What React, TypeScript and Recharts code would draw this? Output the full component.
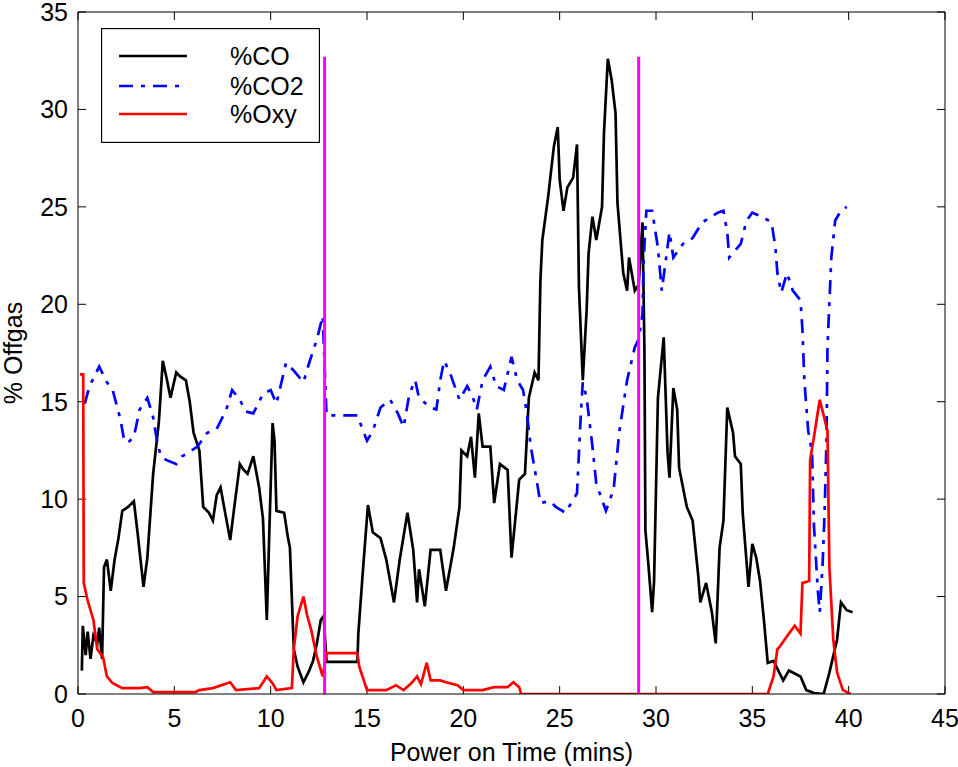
import { LineChart, Line, XAxis, YAxis, ReferenceLine } from "recharts";

// %CO (black)
const coTime = [
  0.2, 0.25, 0.4, 0.5, 0.65, 0.8, 1.0, 1.1, 1.25, 1.35, 1.5, 1.7, 1.9, 2.1, 2.3, 2.6, 2.9, 3.1, 3.4, 3.6,
  3.9, 4.2, 4.4, 4.6, 4.8, 5.1, 5.3, 5.6, 5.8, 6.0, 6.3, 6.5, 6.8, 7.0, 7.2, 7.4, 7.6, 7.9, 8.1, 8.4,
  8.6, 8.8, 9.1, 9.4, 9.6, 9.8, 9.95, 10.1, 10.2, 10.3, 10.7, 10.9, 11.0, 11.2, 11.4, 11.7, 12.0, 12.2, 12.4, 12.6,
  12.75, 12.9, 14.5, 14.55, 14.8, 15.05, 15.3, 15.7, 16.0, 16.4, 16.7, 17.1, 17.4, 17.6, 17.7, 18.0, 18.3, 18.8, 19.1, 19.5,
  19.8, 19.9, 20.2, 20.4, 20.6, 20.8, 21.0, 21.4, 21.6, 21.9, 22.3, 22.5, 22.9, 23.2, 23.4, 23.7, 23.9, 24.0, 24.1, 24.4,
  24.7, 24.9, 25.0, 25.2, 25.4, 25.7, 25.9, 26.0, 26.1, 26.2, 26.4, 26.5, 26.7, 26.9, 27.2, 27.3, 27.5, 27.7, 27.9, 28.0,
  28.3, 28.5, 28.6, 28.9, 29.1, 29.3, 29.4, 29.45, 29.6, 29.8, 29.9, 30.1, 30.4, 30.6, 30.7, 30.9, 31.1, 31.2, 31.5, 31.6,
  31.9, 32.2, 32.3, 32.6, 32.9, 33.1, 33.2, 33.3, 33.5, 33.7, 34.0, 34.1, 34.4, 34.5, 34.8, 35.0, 35.2, 35.4, 35.6, 35.8,
  36.1, 36.6, 36.9, 37.5, 37.8, 38.2, 38.7, 39.0, 39.4, 39.6, 39.9, 40.2,
];
const coValues = [
  1.2, 3.5, 2.0, 3.2, 1.8, 3.0, 2.6, 3.4, 1.8, 6.5, 6.9, 5.3, 6.9, 8.0, 9.4, 9.6, 9.9, 8.2, 5.5, 7.0,
  11.3, 14.0, 17.1, 16.2, 15.2, 16.5, 16.3, 16.1, 15.0, 13.4, 12.5, 9.6, 9.3, 8.9, 10.2, 10.6, 9.5, 7.9, 9.5, 11.8,
  11.5, 11.3, 12.2, 10.6, 9.0, 3.8, 9.0, 13.9, 13.0, 9.4, 9.3, 8.0, 7.5, 2.3, 1.4, 0.6, 1.2, 1.7, 2.6, 3.8,
  4.0, 1.65, 1.65, 3.1, 6.5, 9.7, 8.3, 8.0, 6.9, 4.7, 6.9, 9.3, 7.4, 4.7, 6.4, 4.5, 7.4, 7.4, 5.3, 7.5,
  9.6, 12.5, 12.2, 13.2, 11.1, 14.4, 12.7, 12.7, 9.8, 11.8, 11.5, 7.0, 11.0, 11.3, 15.2, 16.5, 16.1, 21.2, 23.3, 25.5,
  28.1, 29.1, 26.4, 24.8, 26.0, 26.5, 28.2, 20.9, 18.5, 16.1, 19.7, 22.6, 24.5, 23.3, 25.0, 28.8, 32.6, 31.5, 29.8, 25.2,
  21.6, 20.7, 22.4, 20.7, 21.0, 24.2, 17.6, 8.4, 6.7, 4.2, 5.8, 15.2, 18.3, 12.4, 11.1, 15.7, 14.6, 11.6, 10.1, 9.6,
  8.9, 6.0, 4.7, 5.7, 4.2, 2.6, 5.0, 7.5, 8.9, 14.7, 13.4, 12.2, 11.8, 9.3, 5.5, 7.7, 7.0, 5.8, 3.8, 1.6,
  1.7, 0.7, 1.2, 0.9, 0.2, 0.05, 0, 1.1, 2.8, 4.7, 4.3, 4.2,
];

// %CO2 (blue, dash-dot)
const co2Time = [
  0.35, 0.6, 0.9, 1.1, 1.5, 1.8, 2.2, 2.4, 2.6, 2.9, 3.2, 3.6, 3.9, 4.1, 4.3, 4.6, 5.1, 5.4, 5.6, 6.2,
  6.7, 7.2, 7.7, 8.0, 8.4, 8.7, 9.1, 9.6, 10.0, 10.3, 10.8, 11.2, 11.7, 12.0, 12.4, 12.7, 12.9, 14.5, 14.8, 15.0,
  15.3, 15.7, 16.2, 16.6, 16.9, 17.2, 17.5, 17.7, 18.3, 18.6, 18.8, 19.0, 19.3, 19.8, 20.2, 20.5, 20.7, 21.0, 21.4, 21.7,
  22.1, 22.5, 22.8, 23.1, 23.3, 23.5, 23.8, 24.0, 24.5, 24.8, 25.3, 25.9, 26.1, 26.2, 26.4, 26.7, 26.9, 27.4, 27.8, 28.1,
  28.5, 28.9, 29.1, 29.3, 29.35, 29.5, 29.8, 30.1, 30.3, 30.7, 30.9, 31.4, 31.9, 32.4, 33.2, 33.5, 33.7, 33.8, 34.4, 34.7,
  35.0, 35.5, 36.0, 36.2, 36.3, 36.5, 36.8, 37.1, 37.5, 37.6, 37.7, 37.9, 38.1, 38.2, 38.4, 38.5, 38.65, 38.75, 38.85, 38.9,
  39.1, 39.3, 39.6, 39.9,
];
const co2Values = [
  14.9, 15.8, 16.4, 16.8, 16.0, 15.6, 14.1, 13.0, 12.9, 13.2, 14.6, 15.2, 14.2, 13.0, 12.2, 12.0, 11.8, 12.2, 12.3, 12.7,
  13.4, 13.6, 14.6, 15.6, 15.1, 14.5, 14.4, 15.4, 15.6, 14.9, 17.0, 16.6, 16.0, 17.0, 18.2, 19.4, 14.3, 14.3, 13.5, 13.0,
  13.5, 14.7, 15.1, 14.4, 13.7, 15.4, 16.1, 15.2, 14.7, 14.6, 16.1, 17.1, 16.5, 15.1, 15.8, 15.2, 14.6, 16.1, 16.8, 15.8,
  15.6, 17.3, 16.1, 15.6, 14.4, 12.7, 11.0, 9.8, 9.9, 9.6, 9.3, 10.3, 14.4, 16.0, 15.2, 12.7, 10.8, 9.4, 10.5, 13.5,
  16.1, 17.8, 18.2, 19.5, 22.1, 24.8, 24.8, 22.9, 20.7, 23.7, 22.4, 23.1, 23.4, 24.2, 24.7, 24.8, 23.7, 22.4, 23.1, 24.3,
  24.7, 24.5, 24.2, 22.9, 21.6, 20.6, 21.6, 20.7, 20.2, 18.7, 16.1, 13.5, 12.4, 8.6, 5.3, 4.2, 6.7, 9.3, 13.0, 17.8,
  22.4, 24.3, 24.8, 25.0,
];

// %Oxy (red)
const oxyTime = [
  0.1, 0.27, 0.3, 0.5, 0.8, 1.0, 1.3, 1.5, 1.8, 2.3, 3.2, 3.6, 3.9, 6.1, 6.3, 7.0, 7.9, 8.2, 9.4, 9.8,
  10.1, 10.3, 11.1, 11.2, 11.4, 11.7, 11.9, 12.1, 12.4, 12.7, 12.9, 14.5, 14.6, 15.0, 16.0, 16.5, 16.9, 17.3, 17.6, 17.8,
  18.1, 18.3, 18.8, 19.1, 19.7, 20.0, 21.0, 21.6, 22.3, 22.6, 22.9, 23.0, 35.8, 36.1, 36.3, 36.4, 36.9, 37.2, 37.5, 37.6,
  37.95, 38.0, 38.2, 38.5, 38.8, 38.9, 39.0, 39.2, 39.4, 39.7, 40.1,
];
const oxyValues = [
  16.4, 16.4, 5.7, 4.8, 3.8, 2.3, 1.9, 0.9, 0.55, 0.3, 0.3, 0.35, 0.1, 0.1, 0.2, 0.3, 0.6, 0.2, 0.3, 0.9,
  0.55, 0.2, 0.3, 2.3, 4.0, 5.0, 4.0, 3.3, 1.9, 0.9, 2.1, 2.1, 1.4, 0.2, 0.2, 0.45, 0.2, 0.55, 0.9, 0.5,
  1.6, 0.7, 0.7, 0.6, 0.45, 0.2, 0.2, 0.35, 0.35, 0.6, 0.35, 0, 0, 0.9, 2.3, 2.4, 3.1, 3.5, 3.1, 5.7,
  5.8, 12.0, 13.2, 15.1, 13.9, 13.5, 6.5, 2.8, 1.1, 0.2, 0,
];

// magenta marker lines
const markerTimes = [12.8, 29.1];
const markerTop = 32.7;

const xTicks = [0, 5, 10, 15, 20, 25, 30, 35, 40, 45];
const yTicks = [0, 5, 10, 15, 20, 25, 30, 35];
const X_MAX = 45;
const Y_MAX = 35;
// inward tick length, in axis units (about 8px)
const X_TICK_LEN = 0.41;
const Y_TICK_LEN = 0.42;

const toPoints = (t: number[], v: number[]) => t.map((x, i) => ({ x, y: v[i] }));

const coData = toPoints(coTime, coValues);
const co2Data = toPoints(co2Time, co2Values);
const oxyData = toPoints(oxyTime, oxyValues);
const markerData = markerTimes.map((t) => [
  { x: t, y: 0 },
  { x: t, y: markerTop },
]);

const FONT = "'Liberation Sans', Arial, Helvetica, sans-serif";
const DASH_DOT = "14 8 4 8";

const legendItems = [
  { name: "%CO", color: "#000000", dash: undefined as string | undefined },
  { name: "%CO2", color: "#0000ff", dash: DASH_DOT },
  { name: "%Oxy", color: "#ff0000", dash: undefined as string | undefined },
];

const App = () => {
  const tickStyle = { fill: "#000", fontSize: 25, fontFamily: FONT };
  const refProps = { xAxisId: "bottom", yAxisId: "left", stroke: "#000", strokeWidth: 1, ifOverflow: "visible" as const };
  return (
    <div style={{ position: "absolute", left: 0, top: 0, width: 958, height: 767, background: "#fff", fontFamily: FONT }}>
      <LineChart width={958} height={767} margin={{ top: 12, right: 13, bottom: 0, left: 0 }}>
        <XAxis
          xAxisId="bottom"
          dataKey="x"
          type="number"
          domain={[0, X_MAX]}
          ticks={xTicks}
          interval={0}
          height={73}
          stroke="#000"
          tickLine={false}
          tickSize={0}
          tickMargin={15}
          tick={tickStyle}
          allowDataOverflow
          label={{ value: "Power on Time (mins)", position: "insideBottom", offset: 6, fill: "#000", fontSize: 25 }}
        />
        <YAxis
          yAxisId="left"
          type="number"
          domain={[0, Y_MAX]}
          ticks={yTicks}
          interval={0}
          width={78}
          stroke="#000"
          tickLine={false}
          tickSize={0}
          tickMargin={10}
          tick={tickStyle}
          allowDataOverflow
          label={{
            value: "% Offgas",
            angle: -90,
            position: "insideLeft",
            offset: 13,
            fill: "#000",
            fontSize: 25,
            style: { textAnchor: "middle" },
          }}
        />

        {/* box edges */}
        <ReferenceLine {...refProps} y={Y_MAX} />
        <ReferenceLine {...refProps} x={X_MAX} />

        {/* inward ticks on all four sides */}
        {xTicks.map((t) => (
          <ReferenceLine key={`xb-${t}`} {...refProps} segment={[{ x: t, y: 0 }, { x: t, y: X_TICK_LEN * 1.0 }]} />
        ))}
        {xTicks.map((t) => (
          <ReferenceLine key={`xt-${t}`} {...refProps} segment={[{ x: t, y: Y_MAX }, { x: t, y: Y_MAX - X_TICK_LEN }]} />
        ))}
        {yTicks.map((v) => (
          <ReferenceLine key={`yl-${v}`} {...refProps} segment={[{ x: 0, y: v }, { x: Y_TICK_LEN, y: v }]} />
        ))}
        {yTicks.map((v) => (
          <ReferenceLine key={`yr-${v}`} {...refProps} segment={[{ x: X_MAX, y: v }, { x: X_MAX - Y_TICK_LEN, y: v }]} />
        ))}

        <Line
          xAxisId="bottom"
          yAxisId="left"
          data={coData}
          dataKey="y"
          type="linear"
          stroke="#000000"
          strokeWidth={2.7}
          dot={false}
          activeDot={false}
          isAnimationActive={false}
        />
        <Line
          xAxisId="bottom"
          yAxisId="left"
          data={co2Data}
          dataKey="y"
          type="linear"
          stroke="#0000ff"
          strokeWidth={2.7}
          strokeDasharray={DASH_DOT}
          dot={false}
          activeDot={false}
          isAnimationActive={false}
        />
        <Line
          xAxisId="bottom"
          yAxisId="left"
          data={oxyData}
          dataKey="y"
          type="linear"
          stroke="#ff0000"
          strokeWidth={2.7}
          dot={false}
          activeDot={false}
          isAnimationActive={false}
        />
        {markerData.map((d, i) => (
          <Line
            key={`marker-${i}`}
            xAxisId="bottom"
            yAxisId="left"
            data={d}
            dataKey="y"
            type="linear"
            stroke="#ff00ff"
            strokeWidth={3}
            dot={false}
            activeDot={false}
            isAnimationActive={false}
          />
        ))}
      </LineChart>

      {/* legend box */}
      <svg style={{ position: "absolute", left: 101, top: 28 }} width={219} height={115}>
        <rect x={0.5} y={0.5} width={218} height={114} fill="#fff" stroke="#000" strokeWidth={1.3} />
        {legendItems.map((item, i) => {
          const ly = [28, 58, 86][i];
          return (
            <g key={item.name}>
              <line x1={18} x2={86} y1={ly} y2={ly} stroke={item.color} strokeWidth={2.5} strokeDasharray={item.dash} />
              <text x={129} y={ly + 9} fontSize={25} fill="#000" fontFamily={FONT}>
                {item.name}
              </text>
            </g>
          );
        })}
      </svg>
    </div>
  );
};

export default App;
